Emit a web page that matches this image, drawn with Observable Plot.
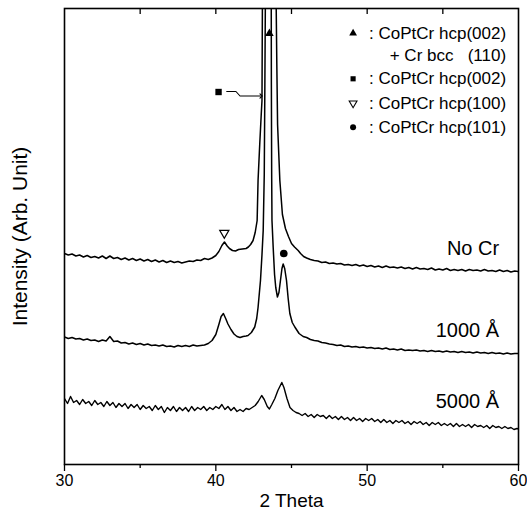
<!DOCTYPE html>
<html>
<head>
<meta charset="utf-8">
<script src="https://cdn.jsdelivr.net/npm/d3@7"></script>
<script src="https://cdn.jsdelivr.net/npm/@observablehq/plot@0.6"></script>
<style>
  html, body { margin: 0; padding: 0; background: #fff; }
</style>
</head>
<body>
<div id="chart"></div>
<script>
// [2θ (deg), intensity (arb.)] — intensities include the vertical offset of each trace
const noCr = [
  [30.0,211],[30.25,209.5],[30.5,210.5],[30.75,208.5],[31.0,209.5],[31.25,207.5],[31.5,209],[31.75,207],
  [32.0,208],[32.25,206.5],[32.5,208.5],[32.75,206],[33.0,208.5],[33.25,206],[33.5,207],[33.75,205],
  [34.0,206.5],[34.25,204.5],[34.5,206],[34.75,204],[35.0,205.5],[35.25,203.5],[35.5,205],[35.75,203],
  [36.0,204.5],[36.25,202.5],[36.5,204],[36.75,202],[37.0,203.5],[37.25,202],[37.5,203],[37.75,201.5],
  [38.0,202.5],[38.25,203.5],[38.5,203],[38.75,204.5],[39.0,204],[39.25,206],[39.5,205],[39.75,206.5],
  [40.0,209],[40.2,213],[40.4,219],[40.57,222.5],[40.75,218.5],[40.9,216],[41.1,214],[41.3,213.5],
  [41.5,215],[41.75,215.5],[42.0,216],[42.15,217.5],[42.3,220],[42.46,224],[42.6,232],[42.73,244],
  [42.79,284],[42.9,320],[43.0,350],[43.05,364],[43.08,470],[43.5,1400],[43.98,470],[44.03,400],
  [44.08,340],[44.23,284],[44.4,250],[44.6,236],[44.8,228],[45.0,221],[45.2,217.5],[45.44,214],
  [45.6,211],[45.8,208],[46.0,206.5],[46.25,205],[46.5,204],[46.75,203.5],[47.0,202],[47.25,202.5],
  [47.5,201],[47.75,201.5],[48.0,200.5],[48.25,201],[48.5,199.5],[48.75,200],[49.0,199],[49.25,200],
  [49.5,198.5],[49.75,199.5],[50.0,198],[50.25,199],[50.5,197.5],[50.75,198.5],[51.0,197],[51.25,198.5],
  [51.5,197],[51.75,197.5],[52.0,196.5],[52.25,197.5],[52.5,196],[52.75,197],[53.0,195.5],[53.25,197],
  [53.5,195.5],[53.75,196],[54.0,195],[54.25,196.5],[54.5,194.5],[54.75,195.5],[55.0,194.5],[55.25,196],
  [55.5,194],[55.75,195],[56.0,194],[56.25,195],[56.5,193.5],[56.75,195],[57.0,194],[57.25,194.5],
  [57.5,193.5],[57.75,195],[58.0,193.5],[58.25,194],[58.5,193],[58.75,194.5],[59.0,193],[59.25,194],
  [59.5,192.5],[59.75,193.5],[60.0,193]
];

const cr1000 = [
  [30.0,127.5],[30.25,126],[30.5,127],[30.75,125.5],[31.0,126],[31.25,124.5],[31.5,125.5],[31.75,124],
  [32.0,124.5],[32.25,123],[32.5,124.5],[32.75,123.5],[33.0,128],[33.25,123],[33.5,123.5],[33.75,121.5],
  [34.0,122],[34.25,120.5],[34.5,121.5],[34.75,120],[35.0,121],[35.25,119.5],[35.5,120.5],[35.75,119],
  [36.0,119.5],[36.25,118.5],[36.5,119.5],[36.75,118],[37.0,118.5],[37.25,117.5],[37.5,119],[37.75,118],
  [38.0,119],[38.25,118],[38.5,119.5],[38.75,118.5],[39.0,119],[39.25,119.5],[39.5,121],[39.75,124],
  [40.0,130],[40.2,140],[40.35,148],[40.5,151],[40.65,146],[40.8,140.5],[41.0,135],[41.2,130.5],
  [41.4,128],[41.6,127],[41.8,128],[42.0,128.5],[42.13,129],[42.35,132],[42.57,137.5],[42.7,146],
  [42.79,157],[42.95,184],[43.05,210],[43.13,234],[43.2,290],[43.24,380],[43.28,480],[43.45,1300],
  [43.66,480],[43.67,380],[43.69,290],[43.71,244],[43.79,217],[43.88,190],[43.96,177],[44.07,167.5],
  [44.17,172],[44.27,184],[44.37,196],[44.45,200.5],[44.55,196],[44.67,184],[44.78,166],[44.89,151],
  [45.05,142],[45.22,137.5],[45.5,131],[45.77,128],[46.0,127],[46.25,125],[46.5,124],[46.75,123.5],
  [47.0,122],[47.25,121.5],[47.5,120.5],[47.75,120],[48.0,119],[48.25,119.5],[48.5,118],[48.75,118.5],
  [49.0,117.5],[49.25,118],[49.5,117],[49.75,117.5],[50.0,116.5],[50.25,117],[50.5,116],[50.75,116.5],
  [51.0,115.5],[51.25,116.5],[51.5,115],[51.75,115.5],[52.0,114.5],[52.25,115.5],[52.5,114],[52.75,114.5],
  [53.0,114],[53.25,114.5],[53.5,113.5],[53.75,114],[54.0,113],[54.25,114],[54.5,113],[54.75,113.5],
  [55.0,112.5],[55.25,113.5],[55.5,112.5],[55.75,113],[56.0,112],[56.25,113],[56.5,112],[56.75,112.5],
  [57.0,111.5],[57.25,112.5],[57.5,111.5],[57.75,112],[58.0,111],[58.25,112],[58.5,111],[58.75,111.5],
  [59.0,110.5],[59.25,111.5],[59.5,110.5],[59.75,111],[60.0,111]
];

const cr5000 = [
  [30.0,66],[30.2,61],[30.4,68],[30.6,62],[30.8,64],[31.0,60],[31.2,65],[31.4,61],[31.6,63],[31.8,59],
  [32.0,64],[32.2,60],[32.4,62],[32.6,58],[32.8,63],[33.0,59],[33.2,62],[33.4,57],[33.6,61],[33.8,58],
  [34.0,61],[34.2,56],[34.4,60],[34.6,57],[34.8,60],[35.0,55],[35.2,59],[35.4,56],[35.6,58],[35.8,54],
  [36.0,59],[36.2,55],[36.4,58],[36.6,52],[36.8,57],[37.0,54],[37.2,58],[37.4,53],[37.6,57],[37.8,54],
  [38.0,57],[38.2,53],[38.4,58],[38.6,54],[38.8,57],[39.0,55],[39.2,58],[39.4,54],[39.6,57],[39.8,55],
  [40.0,58],[40.2,56],[40.4,60],[40.6,55],[40.8,58],[41.0,54],[41.2,57],[41.4,53],[41.6,55],[41.8,53],
  [42.0,56],[42.2,55],[42.4,57],[42.6,59],[42.8,63],[43.03,69],[43.2,65],[43.4,58],[43.54,55.5],[43.7,60],
  [43.9,66],[44.1,74],[44.36,82],[44.5,77],[44.7,66],[44.9,57],[45.1,54],[45.3,52],[45.5,51],[45.7,49],
  [45.9,51],[46.1,48],[46.3,50],[46.5,47],[46.7,50],[46.9,48],[47.1,49],[47.3,46],[47.5,49],[47.7,46],
  [47.9,48],[48.1,45],[48.3,48],[48.5,45],[48.7,47],[48.9,44],[49.1,47],[49.3,44],[49.5,46],[49.7,43],
  [49.9,46],[50.1,44],[50.3,46],[50.5,43],[50.7,45],[50.9,42],[51.1,45],[51.3,42],[51.5,44],[51.7,41],
  [51.9,44],[52.1,42],[52.3,44],[52.5,41],[52.7,43],[52.9,40],[53.1,43],[53.3,41],[53.5,43],[53.7,40],
  [53.9,42],[54.1,39],[54.3,42],[54.5,40],[54.7,42],[54.9,39],[55.1,41],[55.3,39],[55.5,41],[55.7,38],
  [55.9,41],[56.1,38],[56.3,40],[56.5,38],[56.7,40],[56.9,37],[57.1,40],[57.3,38],[57.5,39],[57.7,37],
  [57.9,39],[58.1,36],[58.3,39],[58.5,37],[58.7,38],[58.9,36],[59.1,38],[59.3,36],[59.5,37],[59.7,35],
  [59.9,36],[60.0,35.5]
];

// peak markers [2θ, intensity]
const markTriangle = [[43.54, 431]];
const markSquare = [[40.18, 372.5]];
const markOpenTriangle = [[40.56, 231.5]];
const markCircle = [[44.49, 211]];
const squareLeader = [[40.72, 373], [41.33, 373], [41.6, 368.5], [42.99, 368.5]];

// curve labels
const curveLabels = ["No Cr", "1000 Å", "5000 Å"];
const curveLabelY = [216, 133.5, 63.2];

// legend
const legendText = [": CoPtCr hcp(002)", "+ Cr bcc\u00a0\u00a0\u00a0(110)", ": CoPtCr hcp(002)", ": CoPtCr hcp(100)", ": CoPtCr hcp(101)"];
const legendY = [431.3, 408.5, 385.7, 361.3, 337.3];
const legendSymbolRows = [0, 2, 3, 4];

const xLabelTicks = [30, 40, 50, 60];
const xMinorTicks = [35, 45, 55];
const xTopTicks = [35, 40, 45, 50, 55];

const triangleDown = {
  draw(context, size) {
    const s = Math.sqrt(size / 0.4330127);
    const h = s * Math.sqrt(3) / 2;
    context.moveTo(-s / 2, -h / 3);
    context.lineTo(s / 2, -h / 3);
    context.lineTo(0, 2 * h / 3);
    context.closePath();
  }
};

const legendX = 59.18, legendSymX = 49.07, curveLabelX = 58.72;
const font = "'Liberation Sans', Arial, Helvetica, sans-serif";

const chart = Plot.plot({
  width: 527,
  height: 521,
  marginLeft: 64,
  marginRight: 9,
  marginTop: 8,
  marginBottom: 57,
  x: {domain: [30, 60]},
  y: {domain: [0, 456], axis: null},
  style: {fontFamily: font, background: "#fff", color: "#000"},
  marks: [
    Plot.axisX({ticks: xLabelTicks, tickSize: 7, tickPadding: 3, fontSize: 16, strokeWidth: 1.3, label: null}),
    Plot.axisX({ticks: xMinorTicks, tickSize: 4, strokeWidth: 1.3, tickFormat: () => "", label: null}),
    Plot.axisX({anchor: "top", ticks: xTopTicks, tickSize: -5, strokeWidth: 1.3, tickFormat: () => "", label: null}),
    Plot.frame({stroke: "#000", strokeWidth: 1.6}),
    Plot.text(["2 Theta"], {frameAnchor: "bottom", dy: 42, fontSize: 19, fill: "#000"}),
    Plot.text(["Intensity (Arb. Unit)"], {frameAnchor: "left", textAnchor: "middle", lineAnchor: "middle", rotate: -90, dx: -44, fontSize: 21, fill: "#000"}),
    Plot.line(noCr, {x: d => d[0], y: d => d[1], stroke: "#000", strokeWidth: 1.5, clip: true}),
    Plot.line(cr1000, {x: d => d[0], y: d => d[1], stroke: "#000", strokeWidth: 1.5, clip: true}),
    Plot.line(cr5000, {x: d => d[0], y: d => d[1], stroke: "#000", strokeWidth: 1.4, clip: true}),
    Plot.dot(markTriangle, {x: d => d[0], y: d => d[1], symbol: "triangle", r: 3.2, fill: "#000", stroke: "none"}),
    Plot.dot(markSquare, {x: d => d[0], y: d => d[1], symbol: "square", r: 3.6, fill: "#000", stroke: "none"}),
    Plot.dot(markOpenTriangle, {x: d => d[0], y: d => d[1], symbol: triangleDown, r: 3.4, fill: "#fff", stroke: "#000", strokeWidth: 1.2}),
    Plot.dot(markCircle, {x: d => d[0], y: d => d[1], symbol: "circle", r: 3.8, fill: "#000", stroke: "none"}),
    Plot.line(squareLeader, {x: d => d[0], y: d => d[1], stroke: "#000", strokeWidth: 1.1, markerEnd: "arrow"}),
    Plot.text(curveLabels, {x: curveLabelX, y: (d, i) => curveLabelY[i], text: d => d, textAnchor: "end", lineAnchor: "middle", fontSize: 20, fill: "#000"}),
    Plot.text(legendText, {x: legendX, y: (d, i) => legendY[i], text: d => d, textAnchor: "end", lineAnchor: "middle", fontSize: 17, fill: "#000"}),
    Plot.dot([legendSymbolRows[0]], {x: legendSymX, y: i => legendY[i], symbol: "triangle", r: 2.9, fill: "#000", stroke: "none"}),
    Plot.dot([legendSymbolRows[1]], {x: legendSymX, y: i => legendY[i], symbol: "square", r: 2.9, fill: "#000", stroke: "none"}),
    Plot.dot([legendSymbolRows[2]], {x: legendSymX, y: i => legendY[i], symbol: triangleDown, r: 2.9, fill: "#fff", stroke: "#000", strokeWidth: 1.1}),
    Plot.dot([legendSymbolRows[3]], {x: legendSymX, y: i => legendY[i], symbol: "circle", r: 3, fill: "#000", stroke: "none"})
  ]
});
document.getElementById("chart").appendChild(chart);
</script>
</body>
</html>
